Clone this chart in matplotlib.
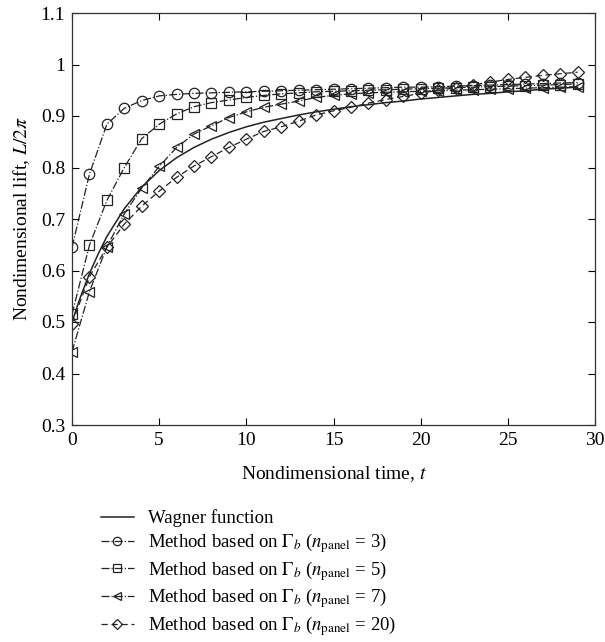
import numpy as np
import matplotlib
matplotlib.use("Agg")
import matplotlib.pyplot as plt

plt.rcParams["font.family"] = ["Liberation Serif", "DejaVu Serif"]
plt.rcParams["mathtext.fontset"] = "stix"

# Wagner function (indicial lift response)
t_wagner = [0, 0.5, 1, 1.5, 2, 3, 4, 5, 6, 7, 8, 9, 10, 11, 12, 13, 14, 15,
            16, 17, 18, 19, 20, 21, 22, 23, 24, 25, 26, 27, 28, 29]
lift_wagner = [0.500, 0.550, 0.594, 0.632, 0.666, 0.720, 0.762, 0.794, 0.819,
               0.839, 0.855, 0.868, 0.879, 0.888, 0.895, 0.902, 0.908, 0.913,
               0.918, 0.922, 0.926, 0.929, 0.933, 0.936, 0.939, 0.942, 0.944,
               0.947, 0.949, 0.952, 0.954, 0.956]

# Discrete-vortex method results, sampled at every unit time step
t_steps = list(range(30))
lift_n3 = [0.645, 0.787, 0.884, 0.915, 0.930, 0.939, 0.942, 0.944, 0.945,
           0.946, 0.947, 0.948, 0.949, 0.950, 0.951, 0.952, 0.953, 0.954,
           0.955, 0.956, 0.956, 0.957, 0.958, 0.959, 0.960, 0.961, 0.962,
           0.963, 0.964, 0.965]
lift_n5 = [0.515, 0.649, 0.736, 0.800, 0.856, 0.884, 0.904, 0.918, 0.926,
           0.931, 0.936, 0.940, 0.943, 0.945, 0.947, 0.948, 0.949, 0.950,
           0.951, 0.952, 0.953, 0.954, 0.955, 0.956, 0.957, 0.958, 0.959,
           0.960, 0.961, 0.962]
lift_n7 = [0.442, 0.559, 0.646, 0.710, 0.760, 0.802, 0.839, 0.865, 0.881,
           0.897, 0.908, 0.917, 0.923, 0.929, 0.936, 0.940, 0.943, 0.945,
           0.946, 0.947, 0.948, 0.949, 0.950, 0.951, 0.952, 0.953, 0.954,
           0.955, 0.956, 0.957]
lift_n20 = [0.497, 0.588, 0.645, 0.690, 0.725, 0.754, 0.781, 0.803, 0.821,
            0.839, 0.855, 0.870, 0.879, 0.890, 0.902, 0.910, 0.917, 0.925,
            0.932, 0.938, 0.944, 0.950, 0.955, 0.960, 0.966, 0.971, 0.975,
            0.979, 0.982, 0.985]

x_ticks = [0, 5, 10, 15, 20, 25, 30]
y_ticks = [0.3, 0.4, 0.5, 0.6, 0.7, 0.8, 0.9, 1.0, 1.1]
y_ticklabels = ["0.3", "0.4", "0.5", "0.6", "0.7", "0.8", "0.9", "1", "1.1"]

fig = plt.figure(figsize=(6.05, 6.42), dpi=100)
ax = fig.add_axes([72 / 605, 1 - 425 / 642, (595 - 72) / 605, (425 - 13) / 642])

ink = "#222222"
lw = 0.9
mk = dict(markersize=7.5, markerfacecolor="none", markeredgecolor=ink,
          markeredgewidth=0.9)

ax.plot(t_wagner, lift_wagner, "-", color=ink, lw=1.1,
        label="Wagner function")
ax.plot(t_steps, lift_n3, linestyle="-.", marker="o", color=ink, lw=lw,
        label=r"Method based on $\Gamma_b$ ($n_{\mathrm{panel}}$ = 3)", **mk)
ax.plot(t_steps, lift_n5, linestyle="-.", marker="s", color=ink, lw=lw,
        label=r"Method based on $\Gamma_b$ ($n_{\mathrm{panel}}$ = 5)", **mk)
ax.plot(t_steps, lift_n7, linestyle="-.", marker="<", color=ink, lw=lw,
        label=r"Method based on $\Gamma_b$ ($n_{\mathrm{panel}}$ = 7)", **mk)
ax.plot(t_steps, lift_n20, linestyle=(0, (5, 3)), marker="D", color=ink,
        lw=lw, label=r"Method based on $\Gamma_b$ ($n_{\mathrm{panel}}$ = 20)",
        markersize=6.5, markerfacecolor="none", markeredgecolor=ink,
        markeredgewidth=0.9)

ax.set_xlim(0, 30)
ax.set_ylim(0.3, 1.1)
ax.set_xticks(x_ticks)
ax.set_yticks(y_ticks)
ax.set_yticklabels(y_ticklabels)
ax.tick_params(direction="in", top=True, right=True, length=5, width=0.8,
               labelsize=14, pad=5)
for s in ax.spines.values():
    s.set_linewidth(0.9)
    s.set_color("#333333")

ax.set_xlabel(r"Nondimensional time, $t$", fontsize=14, labelpad=11)
ax.set_ylabel(r"Nondimensional lift, $L/2\pi$", fontsize=14, labelpad=6)

fig.legend(loc="upper left", bbox_to_anchor=(93 / 605, 1 - 502 / 642),
           frameon=False, fontsize=13.5, handlelength=1.76, handletextpad=0.8,
           labelspacing=0.2, borderaxespad=0, markerscale=0.8)

fig.savefig("out.png", dpi=100)
